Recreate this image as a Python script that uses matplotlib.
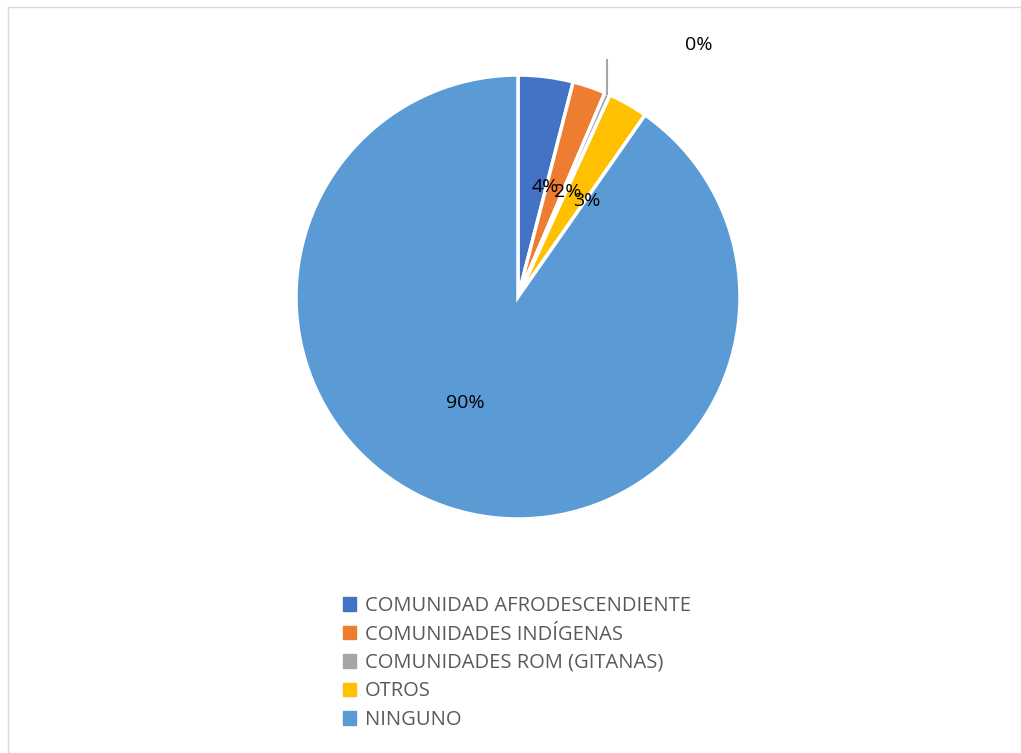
import numpy as np
import matplotlib.pyplot as plt
from matplotlib.patches import Rectangle

categories = ["COMUNIDAD AFRODESCENDIENTE", "COMUNIDADES INDÍGENAS",
              "COMUNIDADES ROM (GITANAS)", "OTROS", "NINGUNO"]
values = [4.0, 2.4, 0.4, 2.9, 90.3]
labels = ["4%", "2%", "0%", "3%", "90%"]
colors = ["#4472C4", "#ED7D31", "#A5A5A5", "#FFC000", "#5B9BD5"]

W, H = 1021, 753
fig = plt.figure(figsize=(W / 100, H / 100), dpi=100)
plt.rcParams['font.family'] = ['Open Sans', 'DejaVu Sans']

# light frame of the chart area
fig.patches.append(Rectangle((8 / W, -0.1), 1.2, 1 - 7 / H + 0.1, transform=fig.transFigure,
                             fill=False, edgecolor="#D9D9D9", lw=1))

cx, cy, r = 518, 297, 222
ax = fig.add_axes([(cx - r) / W, (H - cy - r) / H, 2 * r / W, 2 * r / H])
wedges, texts = ax.pie(values, colors=colors, startangle=90, counterclock=False,
                       wedgeprops=dict(edgecolor="white", linewidth=2.5),
                       labels=labels, labeldistance=0.5,
                       textprops=dict(fontsize=14, color="black"))
ax.set_xlim(-1, 1)
ax.set_ylim(-1, 1)
ax.set_aspect("equal")

# tiny slice: label outside with a leader line
small = texts[2]
w = wedges[2]
mid = np.deg2rad((w.theta1 + w.theta2) / 2)
ex, ey = np.cos(mid), np.sin(mid)
small.set_visible(False)
ax.plot([ex, ex], [ey, 1.067], color="#A5A5A5", lw=1.5, clip_on=False)
ax.text(ex + 0.41, 1.135, labels[2], fontsize=14, ha="center", va="center")

handles = [Rectangle((0, 0), 1, 1, color=c) for c in colors]
leg = fig.legend(handles, categories, loc="upper left", bbox_to_anchor=(335 / W, 1 - 588 / H),
                 frameon=False, fontsize=14.5, handlelength=0.65, handleheight=0.65,
                 handletextpad=0.45, labelspacing=0.42, borderaxespad=0)
for t in leg.get_texts():
    t.set_color("#595959")

fig.savefig("out.png", dpi=100)
